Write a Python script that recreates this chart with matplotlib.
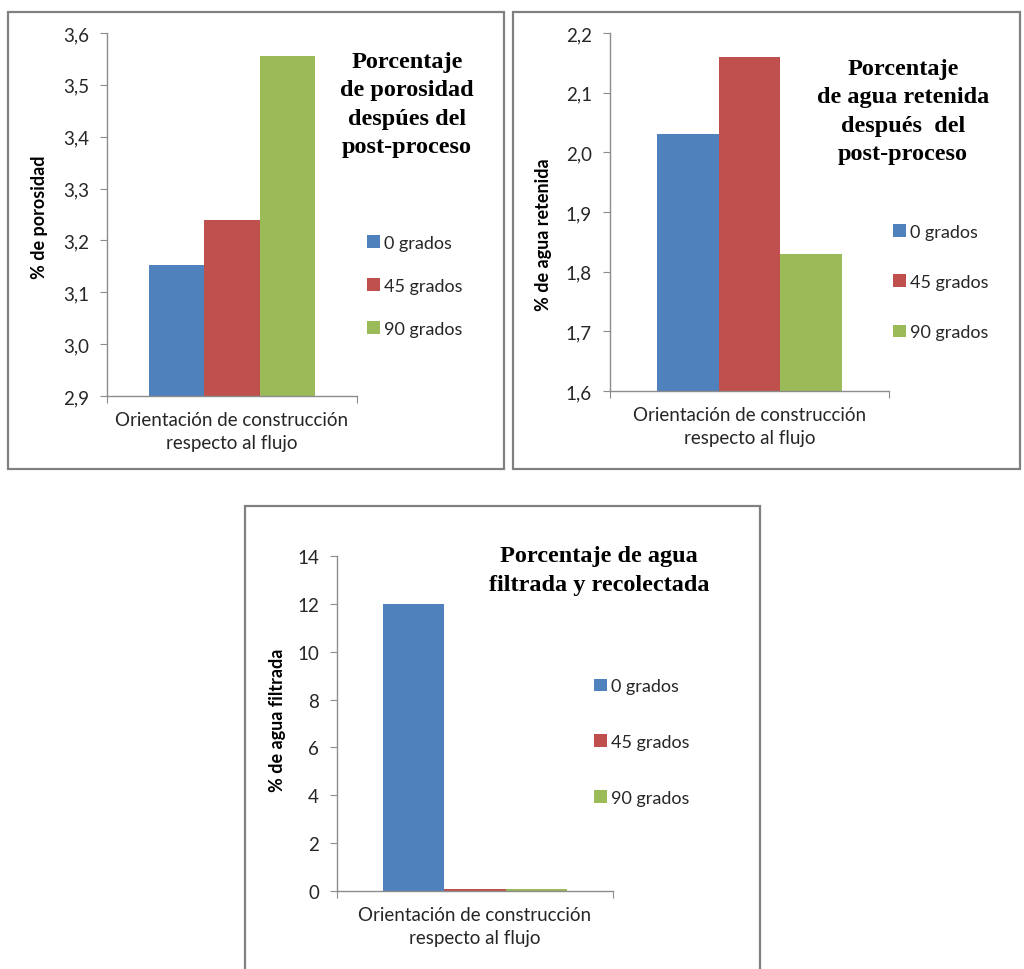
import matplotlib
matplotlib.use("Agg")
import matplotlib.pyplot as plt
import matplotlib.patches as patches

# ---- data ----
series_names = ["0 grados", "45 grados", "90 grados"]
category_label = "Orientación de construcción\nrespecto al flujo"

porosidad = [3.153, 3.239, 3.556]
porosidad_ticks = [2.9, 3.0, 3.1, 3.2, 3.3, 3.4, 3.5, 3.6]

agua_retenida = [2.03, 2.16, 1.83]
retenida_ticks = [1.6, 1.7, 1.8, 1.9, 2.0, 2.1, 2.2]

agua_filtrada = [12.0, 0.1, 0.1]
filtrada_ticks = [0, 2, 4, 6, 8, 10, 12, 14]

colors = ["#4F81BD", "#C0504D", "#9BBB59"]
axis_gray = "#8c8c8c"
text_color = "#262626"

W, H = 1024, 970
plt.rcParams["font.family"] = ["Lato", "DejaVu Sans"]

fig = plt.figure(figsize=(W / 100, H / 100), dpi=100)


def fx(x):
    return x / W


def fy(y):
    return 1 - y / H


def add_border(x0, y0, x1, y1):
    r = patches.Rectangle((fx(x0), fy(y1)), fx(x1) - fx(x0), fy(y0) - fy(y1),
                          transform=fig.transFigure, fill=False,
                          edgecolor="#808080", linewidth=1.6)
    fig.patches.append(r)


def make_panel(box, values, ticks, decimals, ylabel, ylabel_xy,
               title, title_xy, legend_xy, legend_spacing):
    left, top, right, bottom = box
    ax = fig.add_axes([fx(left), fy(bottom), fx(right) - fx(left), fy(top) - fy(bottom)])
    width = 0.222
    offsets = [-width, 0, width]
    for off, v, c, name in zip(offsets, values, colors, series_names):
        ax.bar(off, v - ticks[0], width=width, bottom=ticks[0], color=c,
               label=name, linewidth=0)
    ax.set_xlim(-0.5, 0.5)
    ax.set_ylim(ticks[0], ticks[-1])
    ax.set_yticks(ticks)
    if decimals:
        ax.set_yticklabels([f"{t:.1f}".replace(".", ",") for t in ticks])
    else:
        ax.set_yticklabels([str(t) for t in ticks])
    ax.set_xticks([-0.5, 0.5])
    ax.set_xticklabels(["", ""])
    ax.set_xticks([0], labels=[category_label], minor=True)
    ax.tick_params(axis="x", which="minor", length=0, pad=11, labelsize=13.5,
                   labelcolor=text_color)
    for t in ax.get_xticklabels(minor=True):
        t.set_linespacing(1.4)
    ax.tick_params(axis="x", which="major", length=5, color=axis_gray, direction="out")
    ax.tick_params(axis="y", length=5, color=axis_gray, direction="out", pad=8,
                   labelsize=13.5, labelcolor=text_color)
    for s in ["top", "right"]:
        ax.spines[s].set_visible(False)
    for s in ["left", "bottom"]:
        ax.spines[s].set_color(axis_gray)
        ax.spines[s].set_linewidth(1.0)

    fig.text(fx(ylabel_xy[0]), fy(ylabel_xy[1]), ylabel, rotation=90,
             ha="center", va="center", fontsize=13, fontweight="bold",
             color="black")
    fig.text(fx(title_xy[0]), fy(title_xy[1]), title, ha="center", va="center",
             family="Liberation Serif", fontweight="bold", fontsize=17.5,
             linespacing=1.45)
    leg = ax.legend(loc="center left", bbox_to_anchor=(fx(legend_xy[0]), fy(legend_xy[1])),
                    bbox_transform=fig.transFigure, frameon=False, fontsize=13,
                    handlelength=0.7, handleheight=0.7, handletextpad=0.25,
                    borderpad=0, borderaxespad=0, labelspacing=legend_spacing)
    for t in leg.get_texts():
        t.set_color(text_color)
    return ax


# panel 1
add_border(8, 13, 504, 470)
make_panel((107, 34, 357, 397), porosidad, porosidad_ticks, True,
           "% de porosidad", (40, 217),
           "Porcentaje\nde porosidad\ndespúes del\npost-proceso", (407, 105),
           (367, 287), 1.5)

# panel 2
add_border(513, 13, 1020, 470)
make_panel((610, 34, 889, 392), agua_retenida, retenida_ticks, True,
           "% de agua retenida", (543, 235),
           "Porcentaje\nde agua retenida\ndespués  del\npost-proceso", (903, 112),
           (893, 283), 1.9)

# panel 3
add_border(245, 507, 760, 972)
make_panel((337, 557, 613, 892), agua_filtrada, filtrada_ticks, False,
           "% de agua filtrada", (277, 720),
           "Porcentaje de agua\nfiltrada y recolectada", (599, 571),
           (594, 743), 2.2)

fig.savefig("out.png", dpi=100)
